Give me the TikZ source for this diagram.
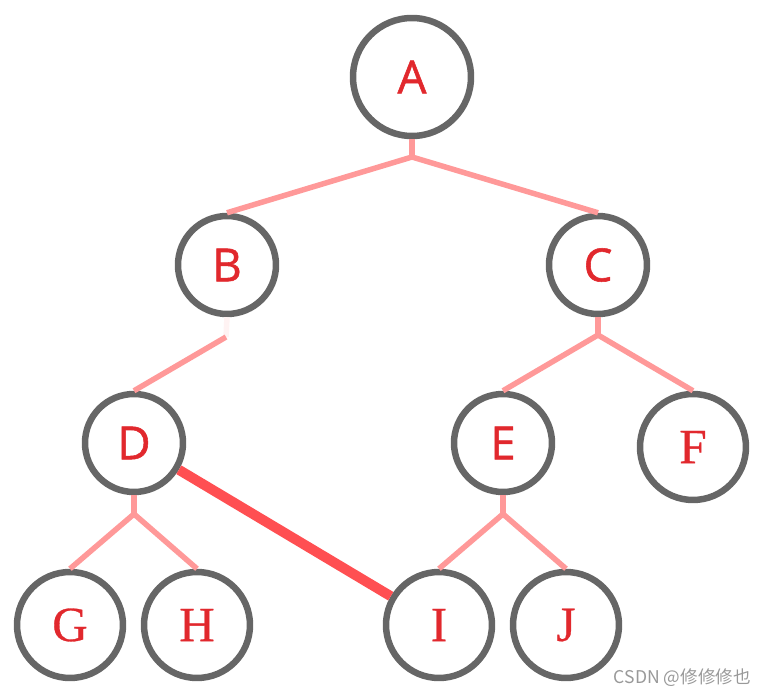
\documentclass[tikz,border=0pt]{standalone}
\usepackage{fontspec}
\setmainfont{Liberation Serif}[FakeBold=0.6]
\newfontfamily\sansletter{Open Sans}[FakeBold=1.2]
\newfontfamily\cjkmark{Noto Sans CJK SC}
\usepackage{xcolor}
\usetikzlibrary{positioning,calc}

\definecolor{ringgray}{HTML}{666666}
\definecolor{letterred}{HTML}{E1282D}
\definecolor{edgepink}{HTML}{FF9999}
\definecolor{pathred}{HTML}{FF4F52}

\begin{document}
\begin{tikzpicture}[
    x=0.02cm, y=-0.02cm,
    bignode/.style={circle, draw=ringgray, line width=0.13cm, minimum size=2.36cm, inner sep=0pt, text=letterred, font=\sansletter\fontsize{26}{26}\selectfont},
    sansnode/.style={circle, draw=ringgray, line width=0.13cm, minimum size=1.96cm, inner sep=0pt, text=letterred, font=\sansletter\fontsize{26}{26}\selectfont},
    serifnode/.style={circle, draw=ringgray, line width=0.13cm, minimum size=2.12cm, inner sep=0pt, text=letterred, font=\fontsize{28}{28}\selectfont},
    edge/.style={draw=edgepink, line width=0.11cm},
    faintedge/.style={draw=edgepink!12, line width=0.11cm},
    pathedge/.style={draw=pathred, line width=0.2cm}
]
    \useasboundingbox (0,0) rectangle (772,696);

    \node [bignode] (A) at (412,77) {A};
    \node [sansnode] (B) at (227,265) {B};
    \node [sansnode] (C) at (598,265) {C};
    \node [sansnode] (D) at (134,443) {D};
    \node [sansnode] (E) at (503,443) {E};
    \node [serifnode] (F) at (693,447) {F};
    \node [serifnode] (G) at (70,625) {G};
    \node [serifnode] (H) at (197,625) {H};
    \node [serifnode] (I) at (439,625) {I};
    \node [serifnode] (J) at (566,625) {J};

    \coordinate (jA) at (412,157);
    \coordinate (jB) at (226,337);
    \coordinate (jC) at (598,335);
    \coordinate (jD) at (134,514);
    \coordinate (jE) at (503,514);

    \draw [edge] (A.south) -- (jA);
    \draw [edge] (jA) -- (B.north);
    \draw [edge] (jA) -- (C.north);
    \draw [faintedge] (B.south) -- (jB);
    \draw [edge] (jB) -- (D.north);
    \draw [edge] (C.south) -- (jC);
    \draw [edge] (jC) -- (E.north);
    \draw [edge] (jC) -- (F.north);
    \draw [edge] (D.south) -- (jD);
    \draw [edge] (jD) -- (G.north);
    \draw [edge] (jD) -- (H.north);
    \draw [edge] (E.south) -- (jE);
    \draw [edge] (jE) -- (I.north);
    \draw [edge] (jE) -- (J.north);
    \draw [pathedge] (D) -- (I);

    \node [anchor=east, text=gray!80, font=\cjkmark\fontsize{10}{10}\selectfont] (mark) at (757,678) {CSDN @修修修也};
\end{tikzpicture}
\end{document}
